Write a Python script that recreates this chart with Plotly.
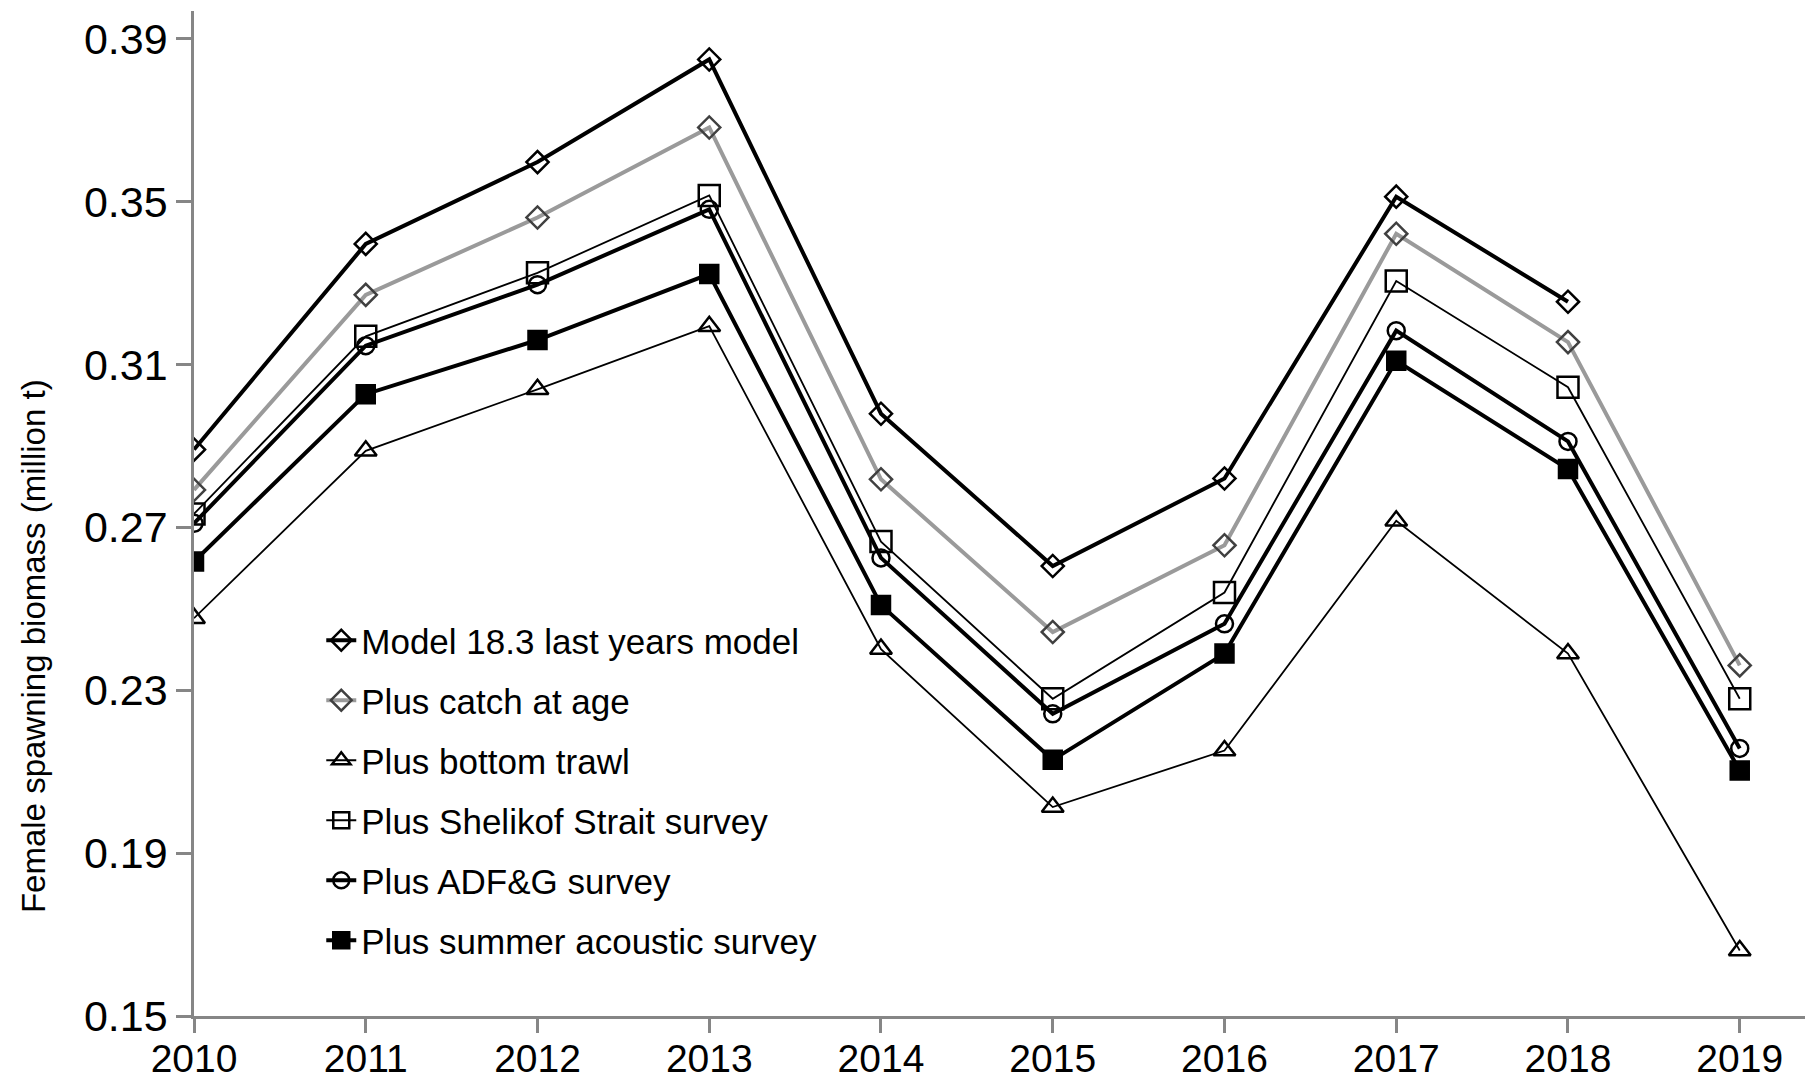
import plotly.graph_objects as go

years = [2010, 2011, 2012, 2013, 2014, 2015, 2016, 2017, 2018, 2019]

# last year's model has no 2019 estimate
model_18_3 = [0.2891, 0.3396, 0.3597, 0.3849, 0.2979, 0.2605, 0.2820, 0.3512, 0.3254]
catch_at_age = [0.2792, 0.3271, 0.3461, 0.3682, 0.2818, 0.2443, 0.2656, 0.3421, 0.3155, 0.2361]
bottom_trawl = [0.2477, 0.2888, 0.3039, 0.3194, 0.2401, 0.2013, 0.2152, 0.2716, 0.2390, 0.1661]
shelikof = [0.2733, 0.3169, 0.3325, 0.3515, 0.2665, 0.2279, 0.2540, 0.3305, 0.3044, 0.2279]
adfg = [0.2710, 0.3146, 0.3296, 0.3481, 0.2625, 0.2242, 0.2463, 0.3183, 0.2911, 0.2157]
summer_acoustic = [0.2616, 0.3027, 0.3160, 0.3322, 0.2509, 0.2129, 0.2390, 0.3109, 0.2843, 0.2103]

y_ticks = [0.15, 0.19, 0.23, 0.27, 0.31, 0.35, 0.39]

FONT = "Liberation Sans, Arial, sans-serif"
AXIS_GREY = '#868686'

fig = go.Figure()

series = [
    ('Model 18.3 last years model', model_18_3, 'black', 4, 'diamond-open', 17, 'black'),
    ('Plus catch at age', catch_at_age, '#9a9a9a', 4, 'diamond-open', 17, '#404040'),
    ('Plus bottom trawl', bottom_trawl, 'black', 1.8, 'triangle-up-open', 19, 'black'),
    ('Plus Shelikof Strait survey', shelikof, 'black', 1.8, 'square-open', 21, 'black'),
    ('Plus ADF&G survey', adfg, 'black', 4, 'circle-open', 17, 'black'),
    ('Plus summer acoustic survey', summer_acoustic, 'black', 4, 'square', 18, 'black'),
]

for i, (name, vals, col, lw, sym, ms, mcol) in enumerate(series):
    fig.add_trace(
        go.Scatter(
            x=years[:len(vals)],
            y=vals,
            mode='lines+markers',
            name=name,
            legendgroup=str(i),
            line={'color': col, 'width': lw},
            marker={'symbol': sym, 'size': ms, 'color': mcol,
                    'line': {'color': mcol, 'width': 2.5}},
        ))

fig.update_layout(
    width=1808,
    height=1085,
    margin=dict(l=194, r=3, t=11, b=69, autoexpand=False),
    plot_bgcolor='white',
    paper_bgcolor='white',
    font=dict(family=FONT, color='black'),
    showlegend=True,
    legend=dict(
        x=0.079, y=0.403, xanchor='left', yanchor='top',
        bgcolor='rgba(0,0,0,0)',
        font=dict(size=35, family=FONT, color='black'),
        traceorder='grouped',
        tracegroupgap=11.5,
    ),
)

fig.add_annotation(
    text='Female spawning biomass (million t)',
    xref='paper', yref='paper',
    x=-0.1, y=0.368,
    xanchor='center', yanchor='middle',
    textangle=-90,
    showarrow=False,
    font=dict(size=33, family=FONT, color='black'),
)

fig.update_xaxes(
    range=[2010, 2019.38],
    automargin=False,
    tickmode='array',
    tickvals=years,
    ticktext=[str(y) for y in years],
    showline=True, linewidth=2.5, linecolor=AXIS_GREY,
    ticks='outside', ticklen=14, tickwidth=2.5, tickcolor=AXIS_GREY,
    tickfont=dict(size=39, family=FONT, color='black'),
    ticklabelstandoff=-8,
    showgrid=False, zeroline=False,
)
fig.update_yaxes(
    range=[0.15, 0.3968],
    automargin=False,
    tickmode='array',
    tickvals=y_ticks,
    ticktext=['%.2f' % v for v in y_ticks],
    showline=True, linewidth=2.5, linecolor=AXIS_GREY,
    ticks='outside', ticklen=15, tickwidth=2.5, tickcolor=AXIS_GREY,
    tickfont=dict(size=43, family=FONT, color='black'),
    showgrid=False, zeroline=False,
)

# drop the default 8px page margin so the figure fills the window
fig.write_html("out.html",
               config={'displayModeBar': False},
               post_script="document.body.style.margin='0';document.body.style.overflow='hidden';")
